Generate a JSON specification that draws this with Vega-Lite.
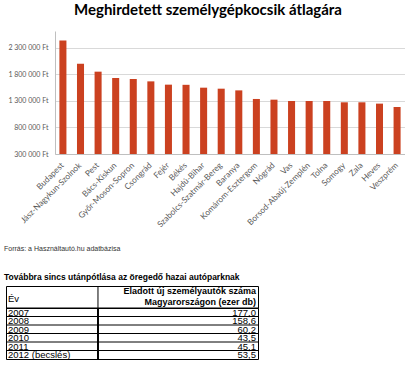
{
  "$schema": "https://vega.github.io/schema/vega-lite/v6.json",
  "padding": {"left": 3, "top": 3, "right": 0, "bottom": 0},
  "background": "white",
  "config": {
    "font": "Lato",
    "view": {"stroke": null},
    "locale": {"number": {"decimal": ",", "thousands": " ", "grouping": [3], "currency": ["", " Ft"]}}
  },
  "spacing": 15,
  "vconcat": [
    {
      "spacing": 0,
      "hconcat": [
        {
          "width": 1,
          "height": 123,
          "data": {"values": []},
          "mark": {"type": "text"},
          "encoding": {}
        },
        {
          "width": 350,
          "height": 123,
          "title": {"text": "Meghirdetett személygépkocsik átlagára", "font": "Lato", "fontSize": 15, "fontWeight": "bold", "color": "black", "anchor": "middle", "offset": 13, "dx": -22},
          "data": {"values": [
            {"megye": "Budapest", "ar": 2440000},
            {"megye": "Jász-Nagykun-Szolnok", "ar": 2000000},
            {"megye": "Pest", "ar": 1853000},
            {"megye": "Bács-Kiskun", "ar": 1734000},
            {"megye": "Győr-Moson-Sopron", "ar": 1715000},
            {"megye": "Csongrád", "ar": 1670000},
            {"megye": "Fejér", "ar": 1608000},
            {"megye": "Békés", "ar": 1605000},
            {"megye": "Hajdú-Bihar", "ar": 1551000},
            {"megye": "Szabolcs-Szatmár-Bereg", "ar": 1532000},
            {"megye": "Baranya", "ar": 1500000},
            {"megye": "Komárom-Esztergom", "ar": 1338000},
            {"megye": "Nógrád", "ar": 1325000},
            {"megye": "Vas", "ar": 1300000},
            {"megye": "Borsod-Abaúj-Zemplén", "ar": 1300000},
            {"megye": "Tolna", "ar": 1300000},
            {"megye": "Somogy", "ar": 1275000},
            {"megye": "Zala", "ar": 1275000},
            {"megye": "Heves", "ar": 1250000},
            {"megye": "Veszprém", "ar": 1187000}
          ]},
          "mark": {"type": "bar", "color": "#CB4120", "clip": true},
          "encoding": {
            "x": {"field": "megye", "type": "nominal", "sort": null,
                  "scale": {"paddingInner": 0.6, "paddingOuter": 0.25},
                  "axis": {"title": null, "labelAngle": -45, "labelAlign": "right", "labelBaseline": "middle", "labelFontSize": 8.3, "labelColor": "#595959", "ticks": false, "domainColor": "#bfbfbf", "labelPadding": 10}},
            "y": {"field": "ar", "type": "quantitative",
                  "scale": {"domain": [300000, 2620000], "nice": false, "zero": false},
                  "axis": {"title": null, "values": [300000, 800000, 1300000, 1800000, 2300000], "format": "$,.0f", "labelFontSize": 7, "labelColor": "#595959", "ticks": false, "domainColor": "#bfbfbf", "gridColor": "#d9d9d9", "labelPadding": 7, "minExtent": 47}}
          }
        }
      ]
    },
    {
      "spacing": 0,
      "bounds": "flush",
      "vconcat": [
        {
          "width": 252,
          "height": 22,
          "view": {"stroke": "black", "strokeWidth": 1},
          "title": {"text": "Forrás: a Használtautó.hu adatbázisa", "subtitle": "Továbbra sincs utánpótlása az öregedő hazai autóparknak", "anchor": "start", "font": "Liberation Sans", "fontSize": 7, "fontWeight": "normal", "color": "#333333", "subtitleFont": "Liberation Sans", "subtitleFontSize": 8.5, "subtitleFontWeight": "bold", "subtitleColor": "black", "subtitlePadding": 21, "offset": 4, "dx": -2},
          "data": {"values": [{"ev": "Év", "db": "Eladott új személyautók száma\nMagyarországon (ezer db)"}]},
          "layer": [
            {"mark": {"type": "rule", "color": "black"},
             "encoding": {"x": {"datum": 36.5, "type": "quantitative", "scale": {"domain": [0, 100]}, "axis": null}}},
            {"mark": {"type": "text", "align": "left", "baseline": "middle", "dx": 2, "dy": 2, "font": "Liberation Sans", "fontSize": 9.5, "color": "black"},
             "encoding": {"x": {"datum": 0, "type": "quantitative"}, "text": {"field": "ev"}}},
            {"mark": {"type": "text", "align": "right", "baseline": "middle", "dx": -2, "dy": -6.5, "font": "Liberation Sans", "fontSize": 9, "fontWeight": "bold", "lineBreak": "\n", "lineHeight": 11.5, "color": "black"},
             "encoding": {"x": {"datum": 100, "type": "quantitative"}, "text": {"field": "db"}}}
          ]
        },
        {
          "width": 252,
          "height": 51,
          "view": {"stroke": "black", "strokeWidth": 1},
          "data": {"values": [
            {"ev": "2007", "db": 177.0},
            {"ev": "2008", "db": 158.6},
            {"ev": "2009", "db": 60.2},
            {"ev": "2010", "db": 43.5},
            {"ev": "2011", "db": 45.1},
            {"ev": "2012 (becslés)", "db": 53.5}
          ]},
          "layer": [
            {"mark": {"type": "rule", "color": "black"},
             "encoding": {"y": {"field": "ev", "type": "ordinal", "sort": null, "bandPosition": 0, "axis": null, "scale": {"paddingInner": 0, "paddingOuter": 0}}}},
            {"mark": {"type": "rule", "color": "black"},
             "encoding": {"x": {"datum": 36.5, "type": "quantitative", "scale": {"domain": [0, 100]}, "axis": null}}},
            {"mark": {"type": "text", "align": "left", "baseline": "middle", "dx": 2, "dy": 0.5, "font": "Liberation Sans", "fontSize": 9.5, "color": "black"},
             "encoding": {"x": {"datum": 0, "type": "quantitative"}, "y": {"field": "ev", "type": "ordinal", "sort": null}, "text": {"field": "ev"}}},
            {"mark": {"type": "text", "align": "right", "baseline": "middle", "dx": -2, "dy": 0.5, "font": "Liberation Sans", "fontSize": 9.5, "color": "black"},
             "encoding": {"x": {"datum": 100, "type": "quantitative"}, "y": {"field": "ev", "type": "ordinal", "sort": null}, "text": {"field": "db", "type": "quantitative", "format": ",.1f"}}}
          ]
        }
      ]
    }
  ]
}
